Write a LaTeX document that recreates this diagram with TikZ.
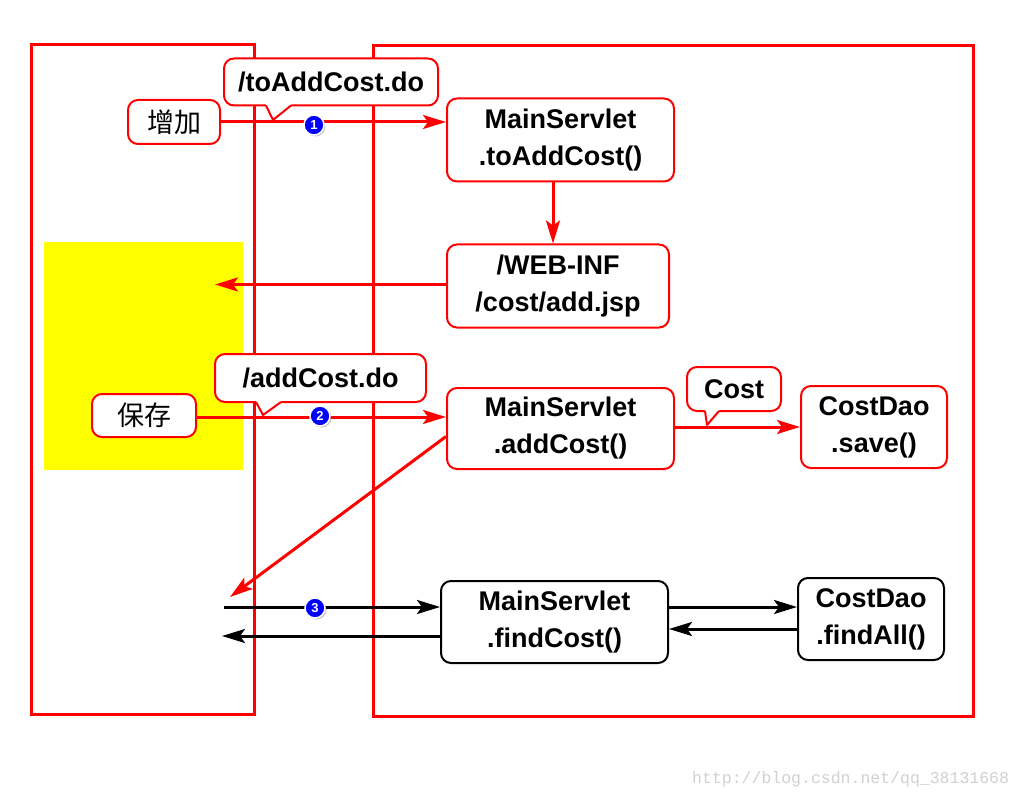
\documentclass[tikz,border=0pt]{standalone}
\usepackage{fontspec}
\setmainfont{Liberation Sans}
\newfontfamily\cjk{Noto Sans CJK SC}
\newfontfamily\wmfont{Liberation Mono}
\usetikzlibrary{arrows.meta,shadows,calc}
\definecolor{yel}{RGB}{255,255,0}
\begin{document}
\begin{tikzpicture}[x=1pt,y=-1pt,
  box/.style={draw=red,line width=2pt,rounded corners=10pt,fill=white,align=center,
    font=\fontsize{27}{37}\selectfont\bfseries,inner sep=0pt},
  bbox/.style={box,draw=black},
  cbox/.style={draw=red,line width=2pt,rounded corners=10pt,fill=white,inner sep=0pt,
    font=\fontsize{27}{30}\selectfont\cjk},
  outer/.style={draw=red,line width=3pt},
  rarrow/.style={draw=red,line width=3pt,-{Stealth[length=23pt,width=14pt,inset=5pt]}},
  barrow/.style={draw=black,line width=3pt,-{Stealth[length=23pt,width=14pt,inset=5pt]}},
  num/.style={circle,fill=blue,draw=white,line width=1.5pt,minimum size=20pt,inner sep=0pt,
    text=white,font=\fontsize{13}{13}\selectfont\bfseries,
    drop shadow={opacity=0.45,shadow xshift=1.5pt,shadow yshift=-1.5pt}}
]
\useasboundingbox (0,0) rectangle (1024,799);
\fill[white] (0,0) rectangle (1024,799);
% yellow area
\fill[yel] (44,242) rectangle (243,470);
% outer frames
\draw[outer] (31,45) rectangle (254,714);
\draw[outer] (373,46) rectangle (973,716);

% nodes
\node[cbox,minimum width=92pt,minimum height=44pt] (add) at (174,122) {增加};
\node[box,minimum width=227pt,minimum height=83pt] (ms1) at (560.5,140) {MainServlet\\.toAddCost()};
\node[box,minimum width=222pt,minimum height=83pt] (jsp) at (558,286) {/WEB-INF\\/cost/add.jsp};
\node[cbox,minimum width=104pt,minimum height=43pt] (save) at (144,415.5) {保存};
\node[box,minimum width=227pt,minimum height=81pt] (ms2) at (560.5,428.5) {MainServlet\\.addCost()};
\node[box,minimum width=146pt,minimum height=82pt] (dao1) at (874,427) {CostDao\\.save()};
\node[bbox,minimum width=227pt,minimum height=82pt] (ms3) at (554.5,622) {MainServlet\\.findCost()};
\node[bbox,minimum width=146pt,minimum height=82pt] (dao2) at (871,619) {CostDao\\.findAll()};

% free ends
\coordinate (jspend) at (215,284.5);
\coordinate (diagend) at (230,597);
\coordinate (fstart) at (224,607);
\coordinate (fend) at (222,636);

% connectors
\draw[rarrow] (add.east) -- (add.east -| ms1.west);
\draw[rarrow] (ms1.south -| 553,0) -- (jsp.north -| 553,0);
\draw[rarrow] (jspend -| jsp.west) -- (jspend);
\draw[rarrow] ([yshift=-1.5pt]save.east) -- ([yshift=-1.5pt]save.east -| ms2.west);
\draw[rarrow] ([yshift=1.5pt]ms2.east) -- ([yshift=1.5pt]ms2.east -| dao1.west);
\draw[rarrow] ([yshift=-8pt]ms2.west) -- (diagend);
\draw[barrow] (fstart) -- (fstart -| ms3.west);
\draw[barrow] (fend -| ms3.west) -- (fend);
\draw[barrow] (fstart -| ms3.east) -- (fstart -| dao2.west);
\draw[barrow] ([yshift=-10pt]dao2.west) -- ([yshift=-10pt]dao2.west -| ms3.east);

% callouts
\node[box,minimum width=214pt,minimum height=47pt] (c1) at (331,82) {/toAddCost.do};
\fill[white] (266,101) -- (266,105.5) -- (273,120) -- (291,105.5) -- (291,101) -- cycle;
\draw[red,line width=2pt,line join=round] (266,105.5) -- (273,120) -- (291,105.5);

\node[box,minimum width=211pt,minimum height=48pt] (c2) at (320.5,378) {/addCost.do};
\fill[white] (256,397) -- (256,402) -- (263,415) -- (281,402) -- (281,397) -- cycle;
\draw[red,line width=2pt,line join=round] (256,402) -- (263,415) -- (281,402);

\node[box,minimum width=94pt,minimum height=44pt] (c3) at (734,389) {Cost};
\fill[white] (705,406) -- (705,411) -- (707,425) -- (719,411) -- (719,406) -- cycle;
\draw[red,line width=2pt,line join=round] (705,411) -- (707,425) -- (719,411);

% step numbers
\node[num] (n1) at (314,125) {1};
\node[num] (n2) at (320,416) {2};
\node[num] (n3) at (315,608) {3};

% watermark
\node[anchor=west,inner sep=0pt,text=black!18,font=\fontsize{16.5}{16.5}\selectfont\wmfont] (wm) at (692,779) {http://blog.csdn.net/qq\_38131668};
\end{tikzpicture}
\end{document}
